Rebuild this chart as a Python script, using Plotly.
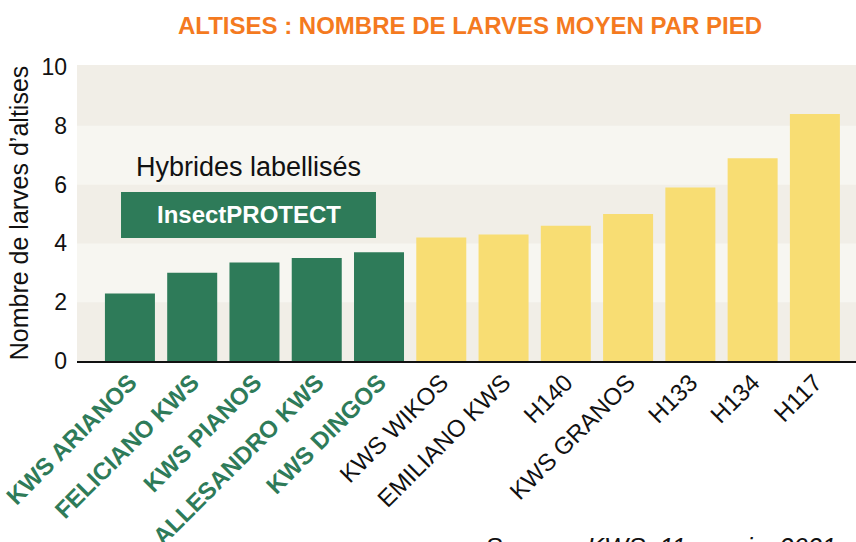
import plotly.graph_objects as go

# ---- data ----
varieties = ["KWS ARIANOS", "FELICIANO KWS", "KWS PIANOS", "ALLESANDRO KWS", "KWS DINGOS",
             "KWS WIKOS", "EMILIANO KWS", "H140", "KWS GRANOS", "H133", "H134", "H117"]
larvae = [2.3, 3.0, 3.35, 3.5, 3.7, 4.2, 4.3, 4.6, 5.0, 5.9, 6.9, 8.4]
labelled = [True, True, True, True, True, False, False, False, False, False, False, False]
y_ticks = [0, 2, 4, 6, 8, 10]

GREEN = "#2e7b59"
YELLOW = "#f8dd73"
BAND_DARK = "#f1eee7"
BAND_LIGHT = "#f7f6f1"
FONT = "Liberation Sans, Arial, sans-serif"

colors = [GREEN if l else YELLOW for l in labelled]
ticktext = [
    f'<span style="color:{GREEN}"><b>{v}</b></span>' if l else v
    for v, l in zip(varieties, labelled)
]

fig = go.Figure()
fig.add_trace(go.Bar(
    x=list(range(len(varieties))),
    y=larvae,
    marker=dict(color=colors, line=dict(width=0)),
    hoverinfo="x+y",
))

shapes = []
for y0, y1 in [(2, 4), (6, 8)]:
    shapes.append(dict(type="rect", xref="paper", yref="y", x0=0, x1=1, y0=y0, y1=y1,
                       fillcolor=BAND_LIGHT, line=dict(width=0), layer="below"))
# InsectPROTECT box
shapes.append(dict(type="rect", xref="paper", yref="paper", x0=0.0565, x1=0.3838,
                   y0=0.4155, y1=0.571, fillcolor=GREEN, line=dict(width=0), layer="above"))

annotations = [
    dict(text="Hybrides labellisés", xref="paper", yref="paper", x=0.2202, y=0.655,
         xanchor="center", yanchor="middle", showarrow=False,
         font=dict(family=FONT, size=27, color="#111111")),
    dict(text="<b>InsectPROTECT</b>", xref="paper", yref="paper", x=0.2202, y=0.4966,
         xanchor="center", yanchor="middle", showarrow=False,
         font=dict(family=FONT, size=24, color="white")),
    dict(text="<i>Source : KWS, 11 essais, 2021</i>", xref="paper", yref="paper",
         x=(838 - 77) / 779, y=(361 - 531) / 296, xanchor="right", yanchor="top",
         showarrow=False, font=dict(family=FONT, size=25.5, color="#111111")),
]

fig.update_layout(
    width=856, height=542,
    margin=dict(l=77, r=0, t=65, b=181, autoexpand=False),
    paper_bgcolor="white",
    plot_bgcolor=BAND_DARK,
    bargap=0.197,
    showlegend=False,
    title=dict(text="<b>ALTISES : NOMBRE DE LARVES MOYEN PAR PIED</b>",
               x=470 / 856, xanchor="center", y=1 - 26 / 542, yanchor="middle",
               font=dict(family=FONT, size=24, color="#f47a1f")),
    font=dict(family=FONT, color="#111111"),
    shapes=shapes,
    annotations=annotations,
    xaxis=dict(
        range=[-0.85, 11.66],
        tickmode="array", tickvals=list(range(len(varieties))), ticktext=ticktext,
        tickangle=-45, tickfont=dict(family=FONT, size=24, color="#111111"),
        showgrid=False, zeroline=False,
        showline=True, linecolor="#111111", linewidth=2,
        ticks="", automargin=False, ticklabelstandoff=-4,
    ),
    yaxis=dict(
        range=[0, 10.07],
        tickmode="array", tickvals=y_ticks,
        tickfont=dict(family=FONT, size=23, color="#111111"),
        showgrid=False, zeroline=False, showline=False, ticks="",
        ticklabelstandoff=9,
        title=dict(text="Nombre de larves d’altises", standoff=5,
                   font=dict(family=FONT, size=25, color="#111111")),
        automargin=False,
    ),
)

fig.write_html("out.html", post_script="document.body.style.margin='0';",
               config={"displayModeBar": False})
